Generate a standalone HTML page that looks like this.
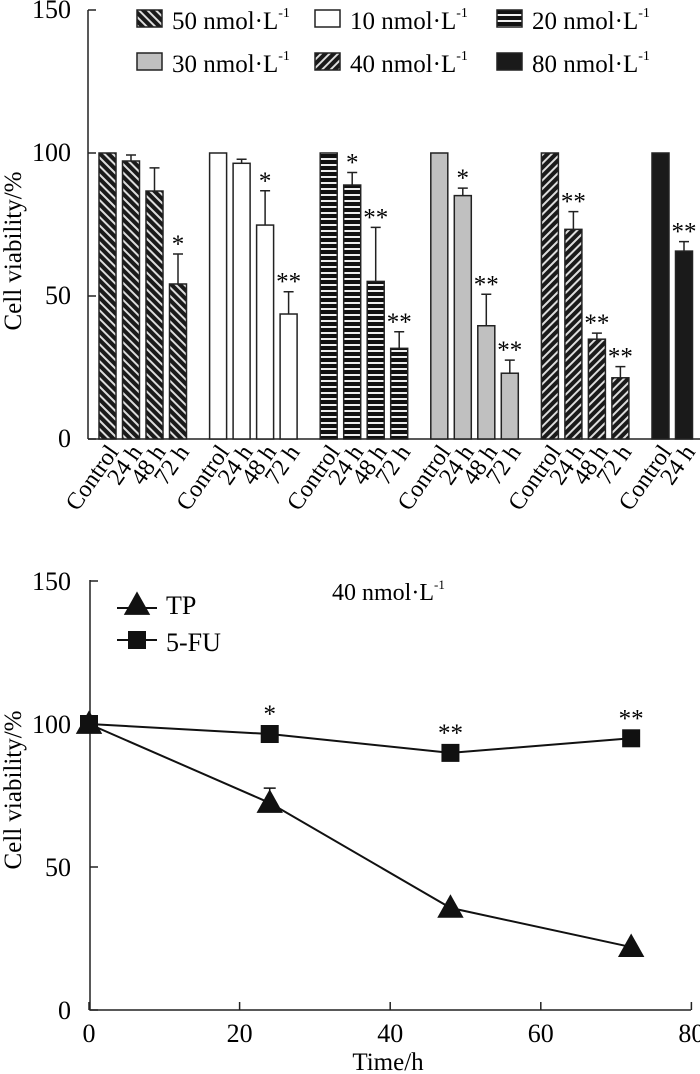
<!DOCTYPE html>
<html><head><meta charset="utf-8"><style>
html,body{margin:0;padding:0;background:#fff;}
svg{display:block;font-family:"Liberation Serif",serif;}
</style></head><body>
<svg id="fig" width="700" height="1074" viewBox="0 0 700 1074">
<defs>
<pattern id="p50" width="6" height="6" patternUnits="userSpaceOnUse" patternTransform="rotate(-45)">
<rect width="6" height="6" fill="#1a1a1a"/><rect x="0" width="2" height="6" fill="#ddd"/></pattern>
<pattern id="p40" width="6" height="6" patternUnits="userSpaceOnUse" patternTransform="rotate(45)">
<rect width="6" height="6" fill="#1a1a1a"/><rect x="0" width="2" height="6" fill="#ddd"/></pattern>
<pattern id="p20" width="8" height="6" patternUnits="userSpaceOnUse">
<rect width="8" height="6" fill="#111"/><rect x="0" y="2" width="8" height="2" fill="#eee"/></pattern>
</defs>
<g id="topChart"></g>
<g id="botChart"></g>
</svg>
<script>
// ---- top bar chart data ----
const groups = ["50 nmol·L", "10 nmol·L", "20 nmol·L", "30 nmol·L", "40 nmol·L", "80 nmol·L"];
const timeLabels = ["Control", "24 h", "48 h", "72 h"];
const val50 = [100, 97.2, 86.7, 54.2];
const err50 = [0, 2.1, 8.1, 10.5];
const sig50 = ["", "", "", "*"];
const val10 = [100, 96.4, 74.8, 43.7];
const err10 = [0, 1.4, 12, 7.8];
const sig10 = ["", "", "*", "**"];
const val20 = [100, 88.8, 55.1, 31.7];
const err20 = [0, 4.4, 18.9, 5.8];
const sig20 = ["", "*", "**", "**"];
const val30 = [100, 85.1, 39.6, 23];
const err30 = [0, 2.6, 11, 4.6];
const sig30 = ["", "*", "**", "**"];
const val40 = [100, 73.3, 34.9, 21.4];
const err40 = [0, 6.2, 2.1, 3.9];
const sig40 = ["", "**", "**", "**"];
const val80 = [100, 65.7];
const err80 = [0, 3.3];
const sig80 = ["", "**"];
const yTicksTop = [0, 50, 100, 150];
// ---- bottom line chart data ----
const hours = [0, 24, 48, 72];
const tpVals = [100, 72.4, 35.7, 22];
const tpErr = [0, 5.2, 0, 0];
const fuVals = [100, 96.5, 89.9, 95];
const fuSig = ["", "*", "**", "**"];
const yTicksBot = [0, 50, 100, 150];
const xTicksBot = [0, 20, 40, 60, 80];

const NS = "http://www.w3.org/2000/svg";
function mk(parent, tag, attrs, text) {
  const e = document.createElementNS(NS, tag);
  for (const k in attrs) e.setAttribute(k, attrs[k]);
  if (text !== undefined) e.textContent = text;
  parent.appendChild(e);
  return e;
}
const topG = document.getElementById("topChart");
const botG = document.getElementById("botChart");
const fills = ["url(#p50)", "#fff", "url(#p20)", "#c0c0c0", "url(#p40)", "#1a1a1a"];
const series = [[val50, err50, sig50], [val10, err10, sig10], [val20, err20, sig20], [val30, err30, sig30], [val40, err40, sig40], [val80, err80, sig80]];

const yT = v => 439 - v * 2.86;
const gx = (g, i) => 99 + g * 110.6 + i * 23.5;
let ax = mk(topG, "path", {d: "M88,439 H700 M88,10 V439", stroke: "#222", "stroke-width": 1.5, fill: "none"});


yTicksTop.forEach(t => {
  const tk = mk(topG, "line", {x1: 88, x2: 96, y1: yT(t), y2: yT(t), stroke: "#222", "stroke-width": 1.5});
  
  
  const lb = mk(topG, "text", {x: 71, y: yT(t) + 8, "text-anchor": "end", "font-size": 26}, t);
  
  
});
let yt = mk(topG, "text", {transform: "translate(21,251) rotate(-90)", "text-anchor": "middle", "font-size": 25}, "Cell viability/%");



series.forEach((s, g) => {
  const [vals, errs, sigs] = s;
  vals.forEach((v, i) => {
    const x = gx(g, i), w = 17;
    const b = mk(topG, "rect", {x: x, y: yT(v), width: w, height: yT(0) - yT(v), fill: fills[g], stroke: "#222", "stroke-width": 1.5});
    
    
    if (errs[i] > 0) {
      const cx = x + w / 2, ty = yT(v + errs[i]);
      const e = mk(topG, "path", {d: `M${cx},${yT(v)} V${ty} M${cx - 5},${ty} H${cx + 5}`, stroke: "#222", "stroke-width": 1.5, fill: "none"});
      
      
    }
    if (sigs[i]) {
      const st = mk(topG, "text", {x: x + w / 2, y: yT(v + errs[i]) - 2, "text-anchor": "middle", "font-size": 25}, sigs[i]);
      
      
    }
    const lb = mk(topG, "text", {transform: `translate(${x + w / 2 + 12},452) rotate(-55)`, "text-anchor": "end", "font-size": 24}, timeLabels[i]);
    
    
  });
});

const legPos = [[137, 10], [315, 10], [497, 10], [137, 53], [315, 53], [497, 53]];
const legNames = ["50", "10", "20", "30", "40", "80"];
legNames.forEach((nm, j) => {
  const [lx, ly] = legPos[j];
  const g = mk(topG, "g", {});
  
  
  mk(g, "rect", {x: lx, y: ly, width: 25, height: 17, fill: fills[j], stroke: "#222", "stroke-width": 1.5});
  const t = mk(g, "text", {x: lx + 35, y: ly + 19, "font-size": 25});
  t.textContent = nm + " nmol·L";
  mk(t, "tspan", {dy: -12, "font-size": 14}, "-1");
});

const xB = h => 89 + h * 7.53;
const yB = v => 1010 - v * 2.86;
ax = mk(botG, "path", {d: "M90,580 V1010 H691", stroke: "#222", "stroke-width": 1.5, fill: "none"});


yTicksBot.forEach(t => {
  const tk = mk(botG, "line", {x1: 90, x2: 98, y1: yB(t), y2: yB(t), stroke: "#222", "stroke-width": 1.5});
  
  
  const lb = mk(botG, "text", {x: 71, y: yB(t) + 9, "text-anchor": "end", "font-size": 26}, t);
  
  
});
xTicksBot.forEach(t => {
  const tk = mk(botG, "line", {x1: xB(t), x2: xB(t), y1: 1010, y2: 1002, stroke: "#222", "stroke-width": 1.5});
  
  
  const lb = mk(botG, "text", {x: xB(t), y: 1042, "text-anchor": "middle", "font-size": 26}, t);
  
  
});
yt = mk(botG, "text", {transform: "translate(21,790) rotate(-90)", "text-anchor": "middle", "font-size": 25}, "Cell viability/%");


const xt = mk(botG, "text", {x: 388, y: 1070, "text-anchor": "middle", "font-size": 25}, "Time/h");



function tri(p, cx, cy, s) {
  return mk(p, "path", {d: `M${cx},${cy - s * 0.62} L${cx + s * 0.6},${cy + s * 0.45} L${cx - s * 0.6},${cy + s * 0.45} Z`, fill: "#111"});
}
const tpLine = mk(botG, "polyline", {points: hours.map((h, i) => xB(h) + "," + yB(tpVals[i])).join(" "), fill: "none", stroke: "#111", "stroke-width": 2});


const fuLine = mk(botG, "polyline", {points: hours.map((h, i) => xB(h) + "," + yB(fuVals[i])).join(" "), fill: "none", stroke: "#111", "stroke-width": 2});


hours.forEach((h, i) => {
  if (tpErr[i] > 0) {
    const cx = xB(h), ty = yB(tpVals[i] + tpErr[i]);
    const e = mk(botG, "path", {d: `M${cx},${yB(tpVals[i])} V${ty} M${cx - 6},${ty} H${cx + 6}`, stroke: "#111", "stroke-width": 1.5, fill: "none"});
    
    
  }
  const t = tri(botG, xB(h), yB(tpVals[i]), 22);
  
  
  const sq = mk(botG, "rect", {x: xB(h) - 9, y: yB(fuVals[i]) - 9, width: 18, height: 18, fill: "#111"});
  
  
  if (fuSig[i]) {
    const st = mk(botG, "text", {x: xB(h), y: yB(fuVals[i]) - 12, "text-anchor": "middle", "font-size": 25}, fuSig[i]);
    
    
  }
});
let lg = mk(botG, "g", {});


mk(lg, "line", {x1: 117, x2: 157, y1: 608, y2: 608, stroke: "#111", "stroke-width": 2});
tri(lg, 137, 605, 22);
mk(lg, "text", {x: 166, y: 614, "font-size": 26}, "TP");
lg = mk(botG, "g", {});


mk(lg, "line", {x1: 117, x2: 157, y1: 640, y2: 640, stroke: "#111", "stroke-width": 2});
mk(lg, "rect", {x: 128, y: 631, width: 18, height: 18, fill: "#111"});
mk(lg, "text", {x: 166, y: 651, "font-size": 26}, "5-FU");
const cond = mk(botG, "text", {x: 332, y: 600, "font-size": 24});


cond.textContent = "40 nmol·L";
mk(cond, "tspan", {dy: -11, "font-size": 13}, "-1");
</script>
</body></html>
